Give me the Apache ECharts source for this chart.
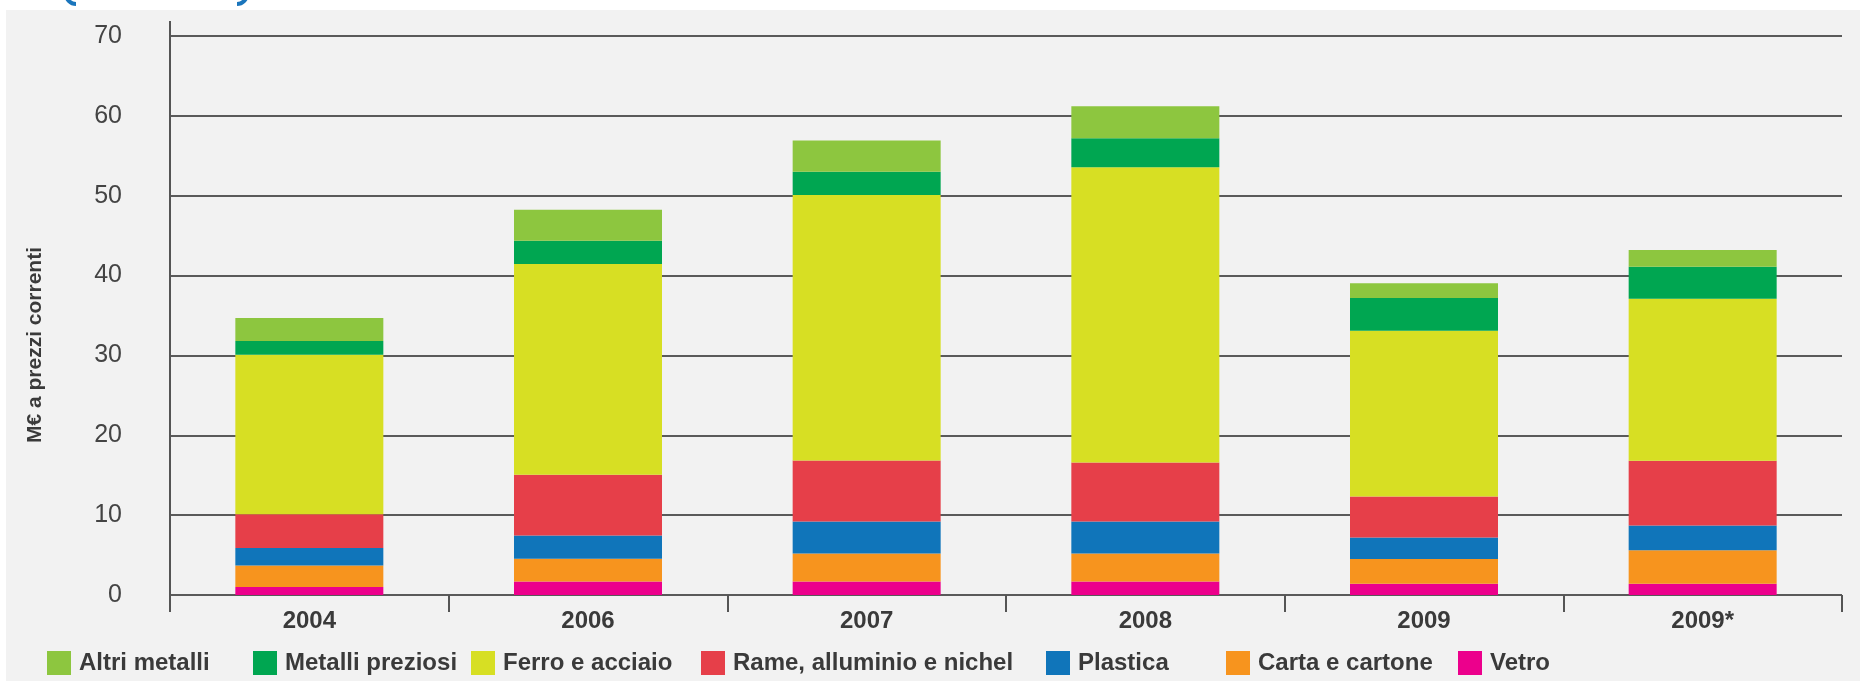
<!DOCTYPE html>
<html>
<head>
<meta charset="utf-8">
<script src="https://cdn.jsdelivr.net/npm/echarts@6/dist/echarts.min.js"></script>
<style>
html,body{margin:0;padding:0;background:#fff;}
#c{width:1860px;height:681px;}
</style>
</head>
<body>
<div id="c"></div>
<script>
var categories = ['2004', '2006', '2007', '2008', '2009', '2009*'];
var vetro    = [1.0, 1.7, 1.7, 1.7, 1.4, 1.4];
var carta    = [2.7, 2.85, 3.5, 3.5, 3.1, 4.2];
var plastica = [2.2, 2.9, 4.0, 4.0, 2.7, 3.1];
var rame     = [4.2, 7.6, 7.65, 7.4, 5.15, 8.1];
var ferro    = [20.0, 26.4, 33.25, 36.95, 20.75, 20.3];
var metalli  = [1.7, 2.9, 2.9, 3.65, 4.1, 4.0];
var altri    = [2.9, 3.9, 3.9, 4.0, 1.85, 2.1];
var yTicks   = [0, 10, 20, 30, 40, 50, 60, 70];

var seriesDefs = [
  {name: 'Vetro', data: vetro, color: '#ec008c'},
  {name: 'Carta e cartone', data: carta, color: '#f7941e'},
  {name: 'Plastica', data: plastica, color: '#1075ba'},
  {name: 'Rame, alluminio e nichel', data: rame, color: '#e63f49'},
  {name: 'Ferro e acciaio', data: ferro, color: '#d7df23'},
  {name: 'Metalli preziosi', data: metalli, color: '#00a651'},
  {name: 'Altri metalli', data: altri, color: '#8dc63f'}
];
var legendOrder = ['Altri metalli', 'Metalli preziosi', 'Ferro e acciaio', 'Rame, alluminio e nichel', 'Plastica', 'Carta e cartone', 'Vetro'];
var legendLeft  = [47, 253, 471, 701, 1046, 1226, 1458];

var FONT = '"Liberation Sans", Arial, sans-serif';
var TXT = '#3a3a3a';

var chart = echarts.init(document.getElementById('c'), null, {renderer: 'canvas'});
var option = {
  animation: false,
  backgroundColor: '#ffffff',
  grid: {left: 170, right: 18, top: 36, bottom: 86, containLabel: false},
  legend: legendOrder.map(function (name, i) {
    return {
      data: [name],
      left: legendLeft[i], top: 651, padding: 0,
      itemWidth: 24, itemHeight: 24,
      icon: 'rect',
      textStyle: {fontFamily: FONT, fontWeight: 'bold', fontSize: 24, color: TXT, padding: [0, 0, 0, 3]},
      selectedMode: false
    };
  }),
  xAxis: {
    type: 'category',
    data: categories,
    boundaryGap: true,
    offset: 7,
    axisLine: {show: false},
    axisTick: {show: true, length: 17, lineStyle: {color: '#555', width: 2}},
    axisLabel: {margin: 7, fontFamily: FONT, fontWeight: 'bold', fontSize: 24, color: TXT}
  },
  yAxis: {
    type: 'value',
    min: yTicks[0], max: yTicks[yTicks.length - 1], interval: 10,
    axisLine: {show: true, lineStyle: {color: '#555', width: 2}},
    axisTick: {show: false},
    axisLabel: {margin: 48, fontFamily: FONT, fontSize: 25, color: '#444'},
    splitLine: {show: true, lineStyle: {color: '#5a5a5a', width: 2}}
  },
  series: seriesDefs.map(function (s) {
    return {
      name: s.name, type: 'bar', stack: 'tot', data: s.data,
      barWidth: 148,
      itemStyle: {color: s.color},
      emphasis: {disabled: true}
    };
  }),
  graphic: []
};
chart.setOption(option);

var pTop = chart.convertToPixel({yAxisIndex: 0}, yTicks[yTicks.length - 1]);
var pZero = chart.convertToPixel({yAxisIndex: 0}, 0);
chart.setOption({
  graphic: [
    {type: 'rect', z: -10, silent: true, shape: {x: 6, y: 10, width: 1860, height: 700}, style: {fill: '#f2f2f2'}},
    {type: 'line', z: 10, silent: true, shape: {x1: 170, y1: pTop - 15, x2: 170, y2: pZero + 4}, style: {stroke: '#555', lineWidth: 2}},
    {type: 'arc', silent: true, shape: {cx: 76, cy: -6, r: 10, startAngle: Math.PI / 2, endAngle: Math.PI}, style: {stroke: '#1a75bc', lineWidth: 4, fill: null}},
    {type: 'arc', silent: true, shape: {cx: 237, cy: -6, r: 10, startAngle: 0, endAngle: Math.PI / 2}, style: {stroke: '#1a75bc', lineWidth: 4, fill: null}},
    {type: 'text', silent: true, x: 35, y: 345, rotation: Math.PI / 2,
      style: {text: 'M€ a prezzi correnti', font: 'bold 21px ' + FONT, fill: TXT, align: 'center', verticalAlign: 'middle'}}
  ]
});
</script>
</body>
</html>
